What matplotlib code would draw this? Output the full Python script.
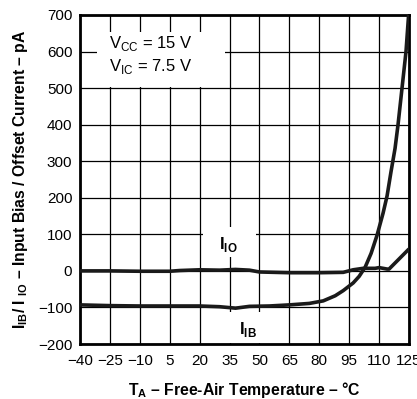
import matplotlib
matplotlib.use("Agg")
import matplotlib.pyplot as plt
from matplotlib.patches import Rectangle

plt.rcParams['font.family'] = ['Liberation Sans', 'DejaVu Sans']
plt.rcParams['mathtext.fontset'] = 'custom'
plt.rcParams['mathtext.rm'] = 'Liberation Sans'
plt.rcParams['mathtext.bf'] = 'Liberation Sans:bold'

# data
ib_t = [-40, -25, -10, 5, 20, 30, 38, 45, 55, 65, 75, 82, 88, 92, 97, 100, 103, 106, 109, 112, 114, 116, 118, 119.5, 121.5, 123.5, 124.8]
ib_v = [-93, -95, -96, -96, -96, -98, -102, -97, -96, -93, -89, -82, -68, -54, -33, -15, 10, 48, 98, 158, 205, 272, 335, 400, 500, 600, 700]
io_t = [-40, -25, -10, 5, 10, 20, 30, 38, 45, 50, 65, 80, 92, 97, 102, 108, 110, 114, 115, 125]
io_v = [0, 0, -1, -1, 1, 3, 2, 4, 2, -3, -5, -5, -4, 3, 7, 7, 9, 5, 5, 60]

xticks = [-40, -25, -10, 5, 20, 35, 50, 65, 80, 95, 110, 125]
yticks = [-200, -100, 0, 100, 200, 300, 400, 500, 600, 700]

fig = plt.figure(figsize=(4.17, 3.99), dpi=100)
ax = fig.add_axes([80/417, 1-344/399, 329/417, 329/399])
ax.plot(ib_t, ib_v, color='#1a1a1a', lw=2.6, solid_capstyle='butt', zorder=3)
ax.plot(io_t, io_v, color='#1a1a1a', lw=2.6, solid_capstyle='butt', zorder=3)
ax.set_xlim(-40, 125)
ax.set_ylim(-200, 700)
ax.set_xticks(xticks)
ax.set_yticks(yticks)
ax.set_xticklabels([str(v).replace('-', '\u2212') for v in xticks])
ax.set_yticklabels([str(v).replace('-', '\u2212') for v in yticks])
ax.tick_params(length=0, labelsize=11)
ax.tick_params(axis='x', pad=7)
ax.tick_params(axis='y', pad=5.5)
ax.grid(True, color='black', lw=0.9)
for s in ax.spines.values():
    s.set_linewidth(2)
ax.set_axisbelow(True)

# white boxes behind the in-plot texts
for (x0, y0, x1, y1) in [(-31.5, 503, 32.7, 654), (21.7, 38, 48.3, 120), (32.7, -198, 51.3, -112)]:
    ax.add_patch(Rectangle((x0, y0), x1 - x0, y1 - y0, facecolor='white', edgecolor='none', zorder=2))

ax.text(-25.5, 622, r'V$_{\mathrm{CC}}$ = 15 V', fontsize=12, va='center', ha='left', zorder=4)
ax.text(-25.5, 560, r'V$_{\mathrm{IC}}$ = 7.5 V', fontsize=12, va='center', ha='left', zorder=4)
ax.text(34.5, 72, r'I$_{\mathbf{IO}}$', fontsize=12, fontweight='bold', ha='center', va='center', zorder=4)
ax.text(44, -160, r'I$_{\mathbf{IB}}$', fontsize=12, fontweight='bold', ha='center', va='center', zorder=4)

ax.set_xlabel('T$_{\\mathbf{A}}$ \u2013 Free-Air Temperature \u2013 \u00b0C',
              fontsize=11.3, fontweight='bold', labelpad=9)
ax.set_ylabel('I$_{\\mathbf{IB}}$/ I $_{\\mathbf{IO}}$ \u2013 Input Bias / Offset Current \u2013 pA',
              fontsize=11.3, fontweight='bold', labelpad=6)
fig.savefig('out.png', dpi=100)
